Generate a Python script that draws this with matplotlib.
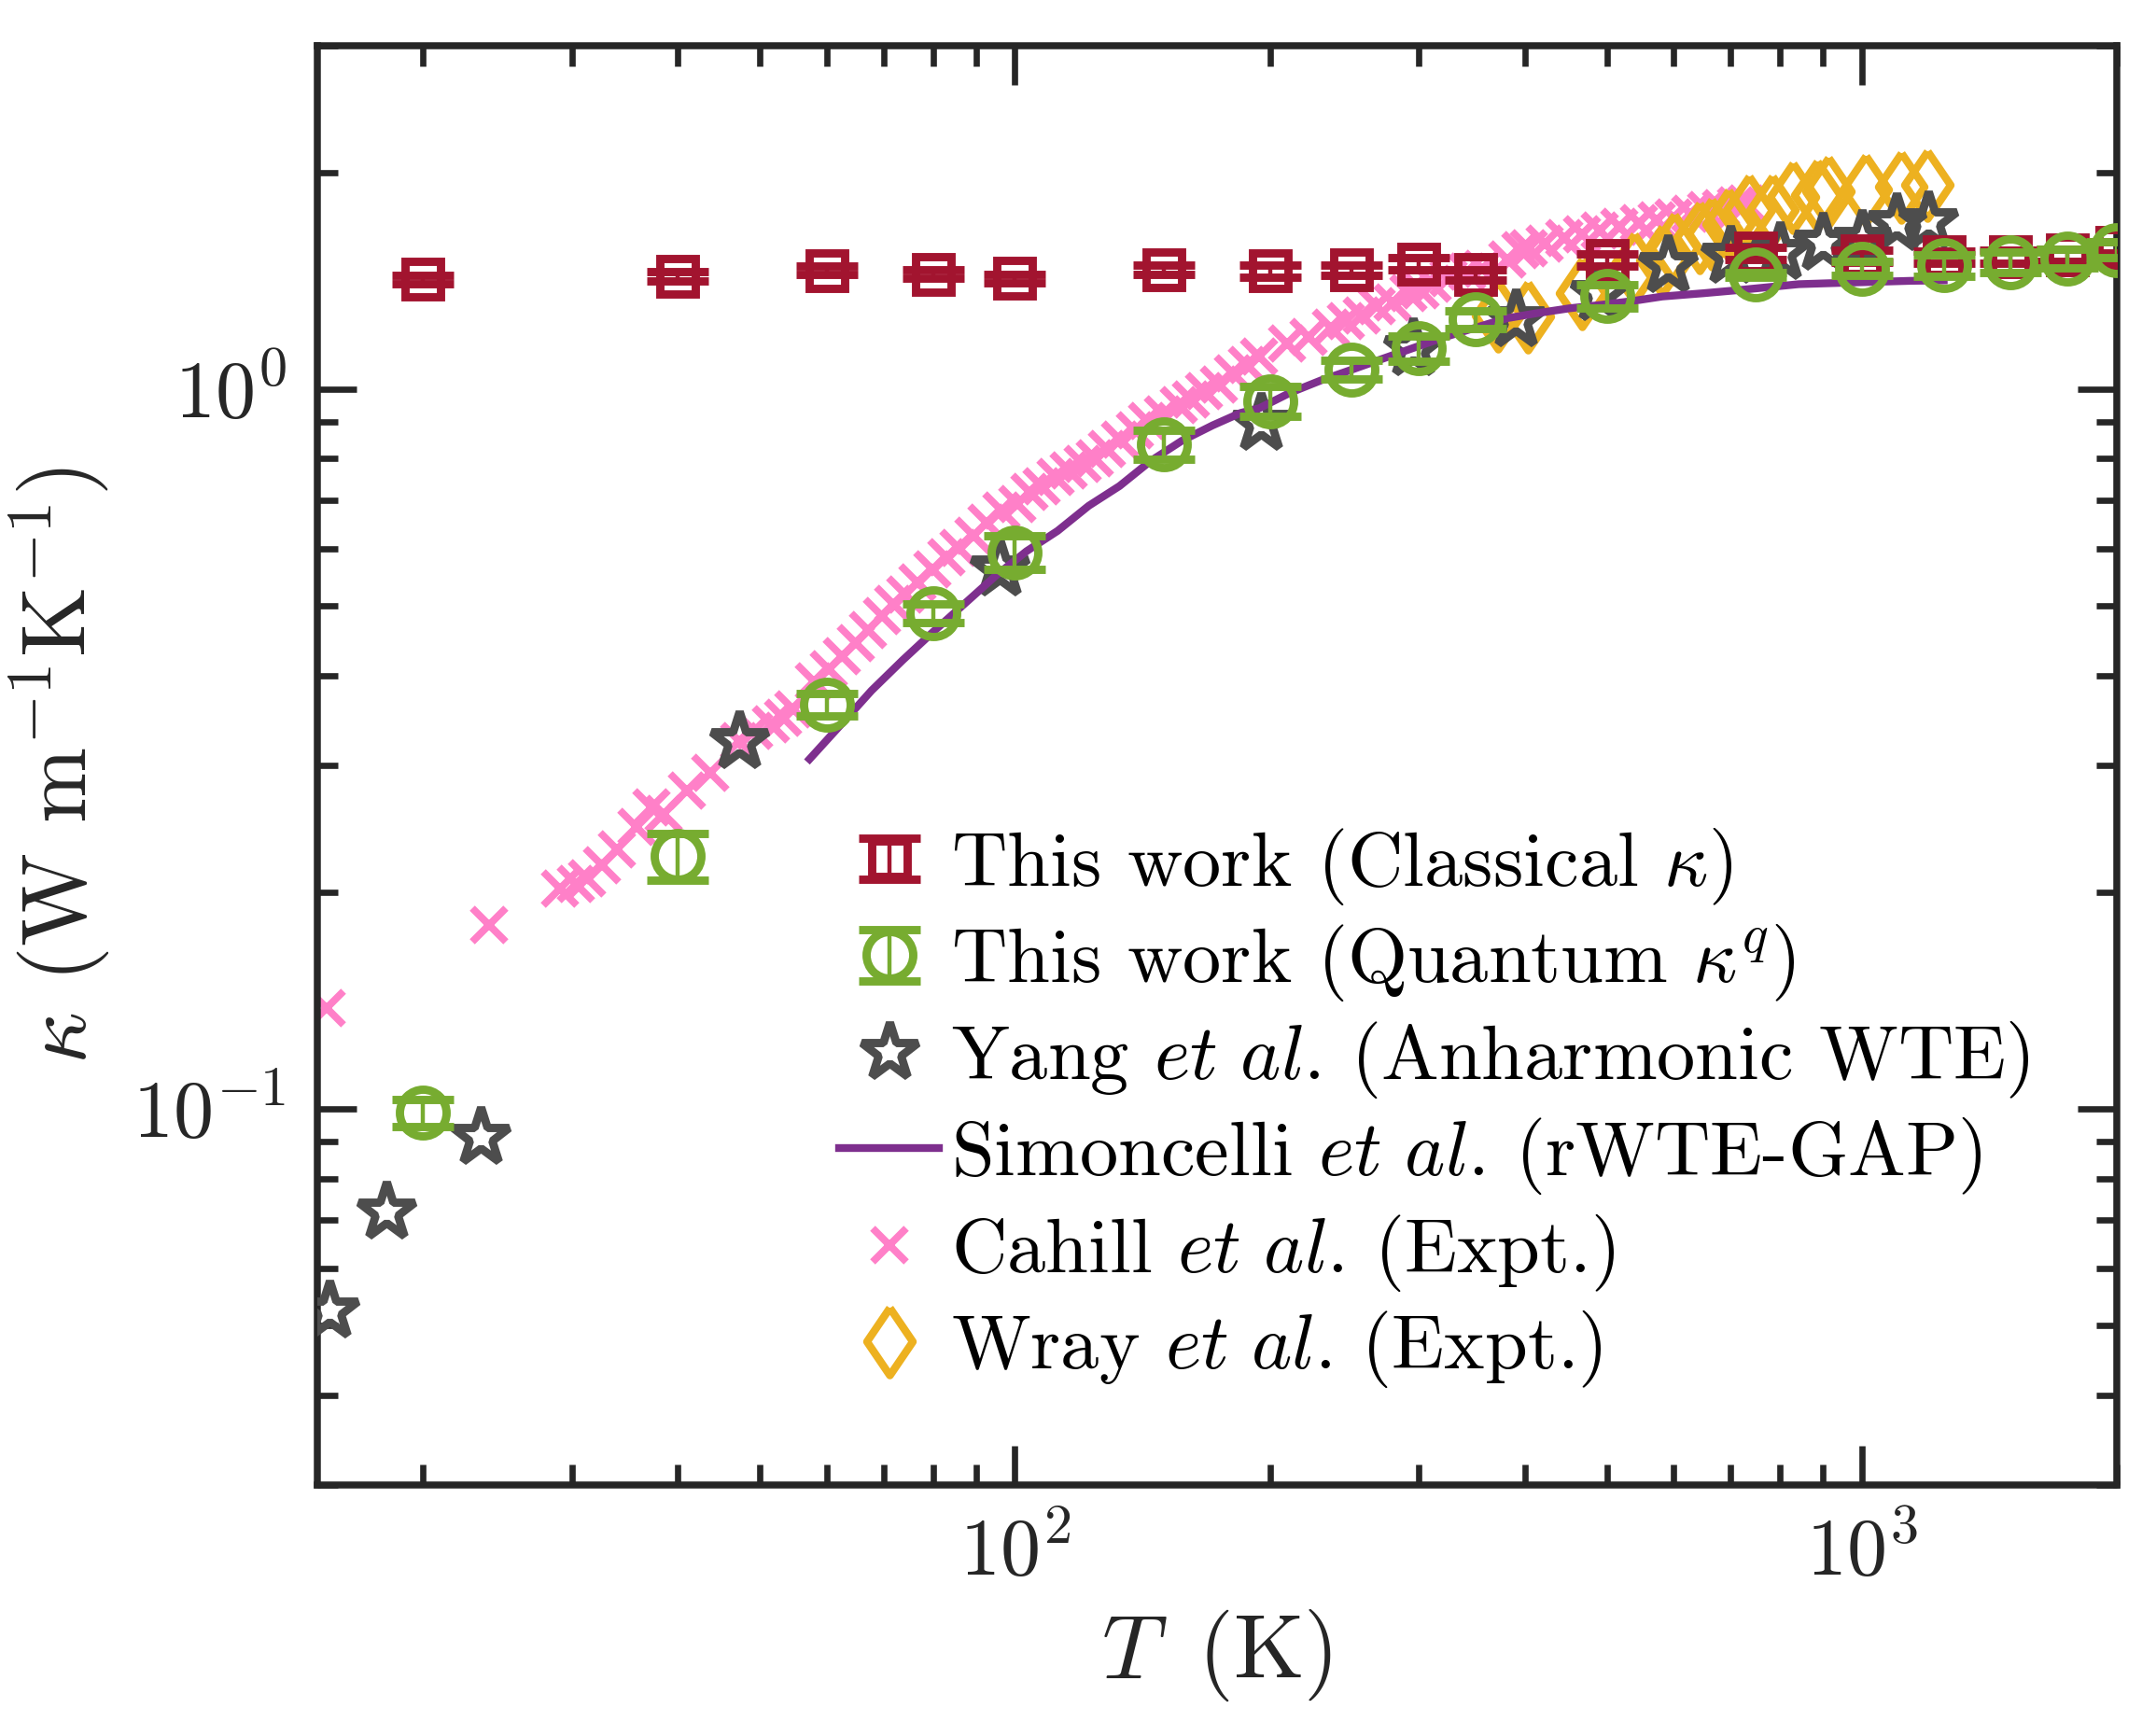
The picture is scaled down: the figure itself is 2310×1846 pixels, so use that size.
import numpy as np
import matplotlib
matplotlib.use("Agg")
import matplotlib.pyplot as plt
from matplotlib.ticker import LogLocator, NullFormatter
from matplotlib.legend_handler import HandlerErrorbar

plt.rcParams['font.family'] = 'serif'
plt.rcParams['font.serif'] = ['cmr10']
plt.rcParams['mathtext.fontset'] = 'cm'
plt.rcParams['axes.unicode_minus'] = False
plt.rcParams['axes.formatter.use_mathtext'] = True

# this work, classical kappa
T_cls = [20, 40, 60, 80, 100, 150, 200, 250, 300, 350, 500, 750, 1000, 1250, 1500, 1750, 2000]
k_cls = [1.42, 1.434, 1.461, 1.444, 1.424, 1.464, 1.458, 1.462, 1.492, 1.441, 1.51,
         1.545, 1.53, 1.525, 1.527, 1.535, 1.573]
e_cls = [0.02, 0.02, 0.02, 0.02, 0.02, 0.02, 0.029, 0.025, 0.03, 0.025, 0.03,
         0.03, 0.03, 0.03, 0.03, 0.03, 0.03]

# this work, quantum kappa^q
T_qnt = [20, 40, 60, 80, 100, 150, 200, 250, 300, 350, 500, 750, 1000, 1250, 1500, 1750, 2000]
k_qnt = [0.0987, 0.2245, 0.364, 0.488, 0.593, 0.837, 0.962, 1.064, 1.138, 1.248, 1.346,
         1.441, 1.47, 1.485, 1.50, 1.517, 1.56]
e_qnt = [0.0042, 0.017, 0.013, 0.015, 0.032, 0.038, 0.046, 0.032, 0.045, 0.034, 0.05,
         0.012, 0.032, 0.05, 0.05, 0.045, 0.04]

# Yang et al. (anharmonic WTE)
T_yang = [15.5, 18.1, 23.4, 47.2, 96, 195, 295, 390, 490, 590, 700, 800, 900, 1000, 1100, 1200]
k_yang = [0.0524, 0.0719, 0.0913, 0.3237, 0.563, 0.897, 1.139, 1.251, 1.357, 1.487,
          1.53, 1.55, 1.595, 1.612, 1.70, 1.712]

# Simoncelli et al. (rWTE-GAP)
T_sim = [57.2, 62.2, 67.7, 73.7, 80.1, 87.2, 94.9, 103.2, 112.3, 122.2, 132.9, 144.6,
         157.4, 171.2, 184.7, 194.3, 211.4, 230.0, 250.2, 272.2, 296.1, 322.2, 350.5,
         381.4, 415.0, 451.4, 491.2, 534.5, 581.5, 650, 712, 843, 964, 1141, 1250]
k_sim = [0.306, 0.341, 0.381, 0.420, 0.460, 0.503, 0.550, 0.595, 0.635, 0.688, 0.733,
         0.794, 0.847, 0.890, 0.926, 0.940, 0.988, 1.028, 1.064, 1.102, 1.141, 1.181,
         1.217, 1.254, 1.275, 1.294, 1.308, 1.324, 1.344, 1.358, 1.371, 1.398, 1.405,
         1.413, 1.415]

# Cahill et al. (expt.)
T_cah = [15.4, 23.9, 29.0, 30.3, 31.2, 32.5, 33.9, 35.7, 37.2, 38.5, 41.0, 43.7, 47.2,
         49.2, 51.5, 53.2, 54.8, 57.9, 60.2, 62.5, 64.9, 67.1, 69.7, 71.8, 74.3, 76.8,
         79.8, 82.9, 85.8, 89.4, 92.5, 96.5, 100.6, 104.1, 107.6, 111.8, 115.7, 120.1,
         124.3, 128.5, 132.9, 138.7, 143.4, 149.6, 156.1, 161.5, 167.0, 174.1, 181.0,
         188.0, 194.3, 209.6, 222.4, 235.9, 246.0, 256.7, 267.7, 279.2, 291.2, 301.2,
         311.6, 324.9, 341.9, 356.6, 381.4, 395.0, 404.6, 422.5, 445.0, 467.0, 490.0,
         517.0, 545.0, 572.0, 600.0, 627.5, 655.0, 683.0, 710.0, 730.0]
k_cah = [0.138, 0.180, 0.202, 0.205, 0.209, 0.218, 0.229, 0.246, 0.262, 0.257, 0.277,
         0.293, 0.324, 0.335, 0.342, 0.349, 0.359, 0.392, 0.408, 0.425, 0.444, 0.462,
         0.483, 0.503, 0.518, 0.539, 0.561, 0.583, 0.601, 0.625, 0.651, 0.677, 0.691,
         0.719, 0.733, 0.755, 0.770, 0.786, 0.802, 0.826, 0.851, 0.877, 0.903, 0.921,
         0.949, 0.968, 0.993, 1.013, 1.05, 1.08, 1.11, 1.158, 1.181, 1.217, 1.241,
         1.266, 1.305, 1.318, 1.358, 1.371, 1.398, 1.427, 1.456, 1.47, 1.514, 1.56,
         1.57, 1.59, 1.62, 1.64, 1.66, 1.68, 1.70, 1.715, 1.73, 1.749, 1.77, 1.784,
         1.80, 1.81]

# Wray et al. (expt.)
T_wray = [372, 403, 467, 539, 581, 601, 643, 666, 697, 736, 784, 829, 886, 913, 1010, 1113, 1196]
k_wray = [1.266, 1.26, 1.358, 1.473, 1.51, 1.568, 1.627, 1.643, 1.693, 1.77, 1.77,
          1.85, 1.86, 1.88, 1.894, 1.91, 1.92]

c_red = '#A2142F'
c_green = '#77AC30'
c_star = '#4D4D4D'
c_purple = '#7E2F8E'
c_pink = '#FF80C8'
c_yellow = '#EDB120'
c_axis = '#262626'

diamond = [(0, 1), (0.68, 0), (0, -1), (-0.68, 0), (0, 1)]

fig = plt.figure(figsize=(11.55, 9.23), dpi=200)
ax = fig.add_axes([0.1472, 0.1381, 0.8345, 0.8355])

h_cah, = ax.plot(T_cah, k_cah, 'x', color=c_pink, ms=13, mew=2.8, zorder=2)
h_wray, = ax.plot(T_wray, k_wray, ls='none', marker=diamond, ms=26, mfc='none',
                  mec=c_yellow, mew=3.0, zorder=3)
h_yang, = ax.plot(T_yang, k_yang, ls='none', marker='*', ms=23, mfc='none',
                  mec=c_star, mew=3.2, zorder=4)
h_sim, = ax.plot(T_sim, k_sim, '-', color=c_purple, lw=3.0, zorder=5)
h_cls = ax.errorbar(T_cls, k_cls, yerr=e_cls, fmt='s', ms=14, mfc='none', mec=c_red,
                    mew=3.2, ecolor=c_red, elinewidth=1.6, capsize=12, capthick=3.0,
                    zorder=6)
h_qnt = ax.errorbar(T_qnt, k_qnt, yerr=e_qnt, fmt='o', ms=18, mfc='none', mec=c_green,
                    mew=3.2, ecolor=c_green, elinewidth=1.6, capsize=12, capthick=3.0,
                    zorder=7)

ax.set_xscale('log')
ax.set_yscale('log')
ax.set_xlim(15, 2000)
ax.set_ylim(0.03, 3)
ax.xaxis.set_minor_locator(LogLocator(base=10, subs=np.arange(2, 10)))
ax.yaxis.set_minor_locator(LogLocator(base=10, subs=np.arange(2, 10)))
ax.xaxis.set_minor_formatter(NullFormatter())
ax.yaxis.set_minor_formatter(NullFormatter())

for s in ax.spines.values():
    s.set_linewidth(2.7)
    s.set_color(c_axis)
ax.tick_params(which='both', direction='in', top=True, right=True, width=2.4,
               color=c_axis, labelcolor=c_axis, labelsize=31)
ax.tick_params(which='major', length=15, pad=12)
ax.tick_params(which='minor', length=8)

ax.set_xlabel(r'$T\,$ (K)', fontsize=35, color=c_axis, labelpad=6)
ax.set_ylabel(r'$\kappa$ (W m$^{-1}$K$^{-1}$)', fontsize=35, color=c_axis, labelpad=8)

handles = [h_cls, h_qnt, h_yang, h_sim, h_cah, h_wray]
labels = [r'This work (Classical $\kappa$)',
          r'This work (Quantum $\kappa^q$)',
          r'Yang $et\ al$. (Anharmonic WTE)',
          r'Simoncelli $et\ al$. (rWTE-GAP)',
          r'Cahill $et\ al$. (Expt.)',
          r'Wray $et\ al$. (Expt.)']
leg = ax.legend(handles, labels, loc='lower left', bbox_to_anchor=(0.29, 0.066),
                frameon=False, fontsize=29.7, handlelength=1.3, handletextpad=0.15,
                labelspacing=0.2, borderpad=0, borderaxespad=0,
                handler_map={h_cls: HandlerErrorbar(xerr_size=0.5, yerr_size=0.27),
                             h_qnt: HandlerErrorbar(xerr_size=0.5, yerr_size=0.33)})
for t in leg.get_texts():
    t.set_color('black')

fig.savefig('out.png', dpi=200)
